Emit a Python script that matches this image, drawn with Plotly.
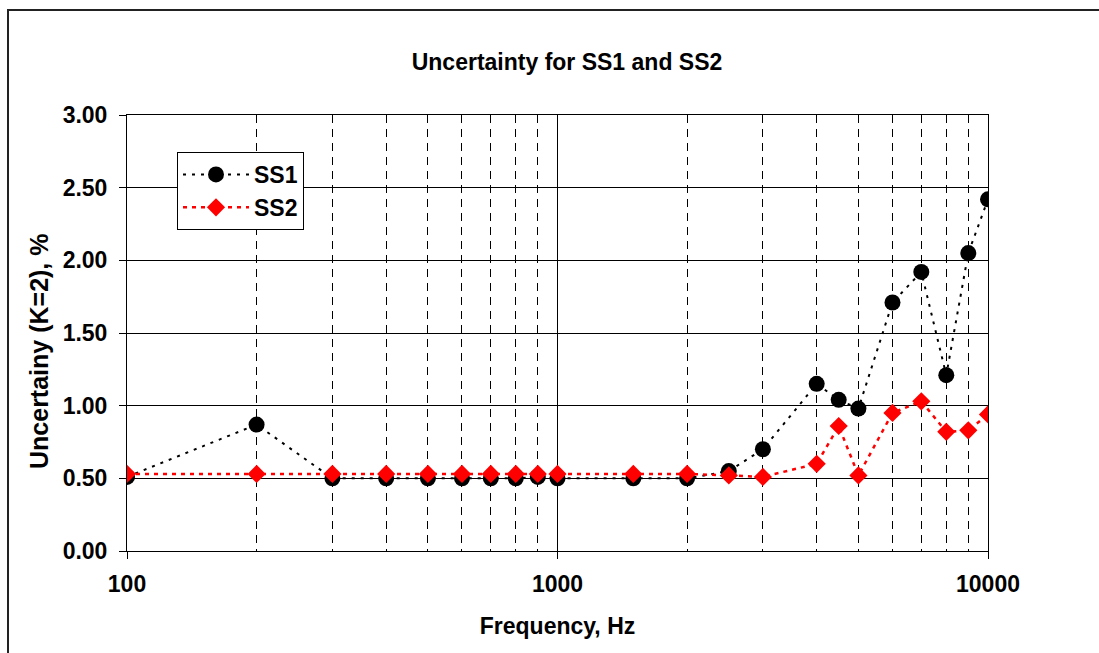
import plotly.graph_objects as go

# Measurement frequencies (Hz)
freq_hz = [100, 200, 300, 400, 500, 600, 700, 800, 900, 1000, 1500, 2000,
           2500, 3000, 4000, 4500, 5000, 6000, 7000, 8000, 9000, 10000]

# Expanded uncertainty (k=2), %
ss1_unc = [0.51, 0.87, 0.50, 0.50, 0.50, 0.50, 0.50, 0.50, 0.51, 0.50, 0.50, 0.50,
           0.55, 0.70, 1.15, 1.04, 0.98, 1.71, 1.92, 1.21, 2.05, 2.42]
ss2_unc = [0.53, 0.53, 0.53, 0.53, 0.53, 0.53, 0.53, 0.53, 0.53, 0.53, 0.53, 0.53,
           0.52, 0.51, 0.60, 0.86, 0.52, 0.95, 1.03, 0.82, 0.83, 0.94]

y_ticks = [0.0, 0.5, 1.0, 1.5, 2.0, 2.5, 3.0]
x_ticks = [100, 1000, 10000]

FONT = "Liberation Sans, Arial, sans-serif"
FS = 23
W, H = 1099, 653
L, R, T, B = 127, 111, 115, 102


def bold(size=FS):
    return dict(family=FONT, size=size, color="black", weight="bold")


fig = go.Figure()
fig.add_trace(go.Scatter(
    x=freq_hz, y=ss1_unc, name="SS1", mode="lines+markers",
    line=dict(color="black", width=2, dash="3px,6px"),
    marker=dict(symbol="circle", size=16, color="black"),
))
fig.add_trace(go.Scatter(
    x=freq_hz, y=ss2_unc, name="SS2", mode="lines+markers",
    line=dict(color="#ff0000", width=2.5, dash="4px,5px"),
    marker=dict(symbol="diamond", size=14, color="#ff0000"),
))

pw = W - L - R
ph = H - T - B
# outer chart frame (runs off the right and bottom edges)
fig.add_shape(type="rect", xref="paper", yref="paper",
              x0=(8 - L) / pw, x1=(W + 10 - L) / pw,
              y0=-(H + 10 - (H - B)) / ph, y1=1 + (T - 10) / ph,
              line=dict(color="#222222", width=2), layer="below")

# vertical axis title
fig.add_annotation(text="Uncertainy (K=2), %", textangle=-90,
                   xref="paper", yref="paper",
                   x=(39 - L) / pw, y=1 - (351 - T) / ph,
                   xanchor="center", yanchor="middle", showarrow=False,
                   font=bold(25))

fig.update_layout(
    width=W, height=H,
    margin=dict(l=L, r=R, t=T, b=B),
    paper_bgcolor="white", plot_bgcolor="white",
    font=bold(),
    title=dict(text="Uncertainty for SS1 and SS2", x=567 / W, xanchor="center",
               y=1 - 62 / H, yanchor="middle", font=bold()),
    legend=dict(x=(177 - L) / pw, y=1 - (152 - T) / ph, xanchor="left", yanchor="top",
                bgcolor="white", bordercolor="black", borderwidth=1,
                font=bold(), itemwidth=66, tracegroupgap=0),
    xaxis=dict(
        type="log", range=[2, 4], tickvals=x_ticks, ticktext=[str(v) for v in x_ticks],
        ticks="outside", ticklen=7, tickcolor="black", tickwidth=1,
        showline=True, linecolor="black", linewidth=1, mirror=True,
        showgrid=True, gridcolor="black", gridwidth=1,
        minor=dict(dtick="D1", showgrid=True, gridcolor="black", gridwidth=1,
                   griddash="8px,6px", ticks=""),
        ticklabelstandoff=5,
        tickfont=bold(),
        title=dict(text="Frequency, Hz", standoff=22, font=bold()),
        zeroline=False,
    ),
    yaxis=dict(
        range=[0, 3], tickvals=y_ticks, tickformat=".2f",
        ticks="outside", ticklen=7, tickcolor="black", tickwidth=1,
        showline=True, linecolor="black", linewidth=1, mirror=True,
        showgrid=True, gridcolor="black", gridwidth=1,
        ticklabelstandoff=7,
        tickfont=bold(),
        zeroline=False,
    ),
)

fig.write_html("out.html")
